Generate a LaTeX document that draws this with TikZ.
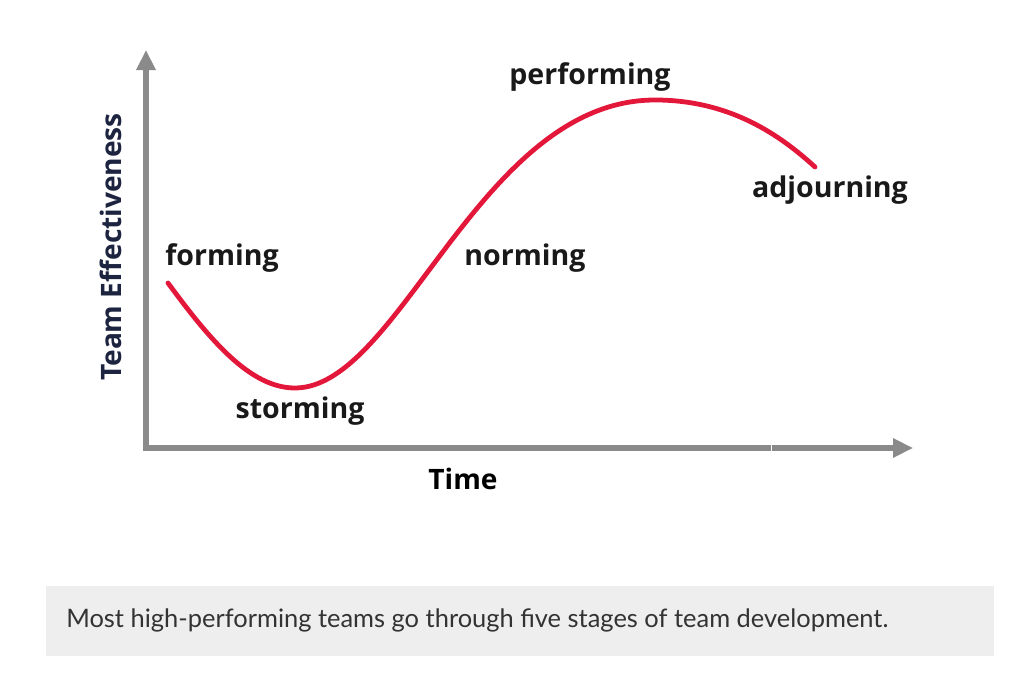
\documentclass[tikz,border=0pt]{standalone}
\usepackage{xcolor}
\usepackage{fontspec}
\setmainfont{Open Sans}
\newfontfamily\capfont{Lato}
\usetikzlibrary{positioning,arrows.meta}

\definecolor{axisgray}{HTML}{8A8A8A}
\definecolor{curvered}{HTML}{E3173A}
\definecolor{navytext}{HTML}{1C2440}
\definecolor{capbg}{HTML}{EEEEEE}
\definecolor{captext}{HTML}{333333}

\begin{document}
\begin{tikzpicture}[
    x=0.025cm, y=-0.025cm,
    axis/.style   ={draw=axisgray, line width=3.6pt,
                    -{Triangle[length=5mm, width=4.6mm]}},
    curve/.style  ={draw=curvered, line width=3.4pt, line cap=round},
    stage/.style  ={font=\bfseries\fontsize{20.3}{22}\selectfont, text=black!90, inner sep=0pt},
    axlabel/.style={font=\bfseries\fontsize{20}{22}\selectfont, inner sep=0pt},
    capbox/.style ={fill=capbg, draw=none},
    captxt/.style ={font=\capfont\fontsize{18.1}{21}\selectfont, text=captext,
                    anchor=west, inner sep=0pt}
  ]
    \useasboundingbox (0,0) rectangle (1032,688);

    % --- axes ---
    \coordinate (origin) at (146,448);
    \coordinate (ytip) at (146,50);
    \coordinate (xtip) at (913,448);
    \draw[axis] (origin) -- (ytip);
    \draw[axis] ([xshift=-1.8pt]origin) -- (xtip);
    % small break in the time axis
    \draw[white, line width=0.7pt] (771,440) -- (771,456);

    \node[axlabel] (time) at (463,479) {Time};
    \node[axlabel, text=navytext, rotate=90] (eff) at (111,247) {Team Effectiveness};

    % --- development curve ---
    \coordinate (cForm) at (168,283);
    \coordinate (cStorm) at (295,388);
    \coordinate (cPerf) at (655,100);
    \coordinate (cAdj) at (815,167);
    \draw[curve] (cForm) .. controls (210,340) and (250,388) .. (cStorm)
                         .. controls (400,388) and (480,100) .. (cPerf)
                         .. controls (730,100) and (780,135) .. (cAdj);

    % --- stage labels ---
    \node[stage] (forming)    at (222,258) {forming};
    \node[stage] (storming)   at (300,411) {storming};
    \node[stage] (norming)    at (525,258) {norming};
    \node[stage] (performing) at (590,77)  {performing};
    \node[stage] (adjourning) at (830,190) {adjourning};

    % --- caption ---
    \fill[capbox] (46,586) rectangle (994,656);
    \node[captxt] (caption) at (66,620)
      {Most high-performing teams go through five stages of team development.};
  \end{tikzpicture}
\end{document}
